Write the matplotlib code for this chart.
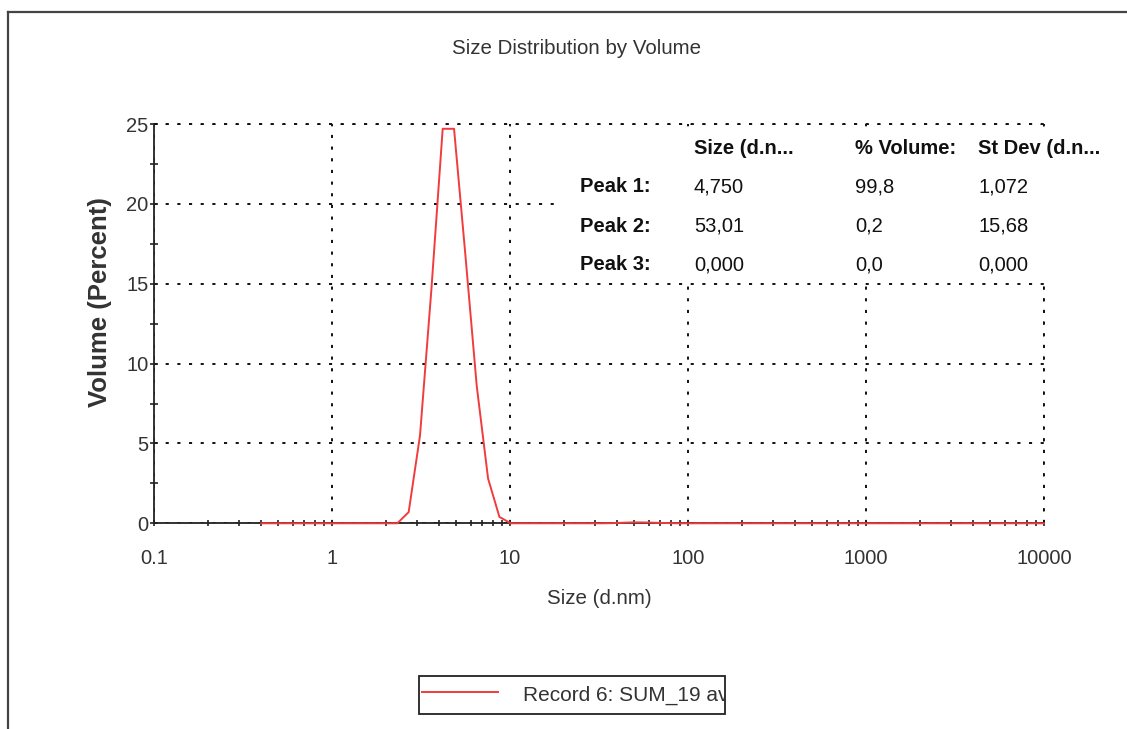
import matplotlib
matplotlib.use("Agg")
import matplotlib.pyplot as plt
import matplotlib.font_manager as fm
from matplotlib.lines import Line2D
from matplotlib.patches import Rectangle

# ---- data ----
sizes = [0.4000, 0.4632, 0.5365, 0.6213, 0.7195, 0.8332, 0.9649, 1.117, 1.294, 1.499,
         1.736, 2.010, 2.328, 2.696, 3.122, 3.615, 4.187, 4.849, 5.615, 6.503,
         7.531, 8.721, 10.10, 11.70, 13.54, 15.69, 18.17, 21.04, 24.36, 28.21,
         32.67, 37.84, 43.82, 50.75, 58.77, 68.06, 78.82, 91.28, 105.7, 122.4,
         141.8, 164.2, 190.1, 220.2, 255.0, 295.3, 342.0, 396.1, 458.7, 531.2,
         615.1, 712.4, 825.0, 955.4, 1106, 1281, 1484, 1718, 1990, 2305,
         2669, 3091, 3580, 4145, 4801, 5560, 6439, 7456, 8635, 10000]
volume = [0, 0, 0, 0, 0, 0, 0, 0, 0, 0,
          0, 0, 0, 0.7, 5.5, 14.6, 24.7, 24.7, 16.8, 8.6,
          2.8, 0.4, 0, 0, 0, 0, 0, 0, 0, 0,
          0, 0.01, 0.04, 0.06, 0.05, 0.03, 0.01, 0, 0, 0,
          0, 0, 0, 0, 0, 0, 0, 0, 0, 0,
          0, 0, 0, 0, 0, 0, 0, 0, 0, 0,
          0, 0, 0, 0, 0, 0, 0, 0, 0, 0]

x_ticks = [0.1, 1, 10, 100, 1000, 10000]
x_tick_labels = ["0.1", "1", "10", "100", "1000", "10000"]
y_ticks = [0, 5, 10, 15, 20, 25]

table_header = ["Size (d.n...", "% Volume:", "St Dev (d.n..."]
peak_names = ["Peak 1:", "Peak 2:", "Peak 3:"]
peak_size = ["4,750", "53,01", "0,000"]
peak_volume = ["99,8", "0,2", "0,0"]
peak_stdev = ["1,072", "15,68", "0,000"]

record_label = "Record 6: SUM_19 av"

############   STYLE   #############
names = {f.name for f in fm.fontManager.ttflist}
NARROW = "Liberation Sans Narrow" if "Liberation Sans Narrow" in names else "Liberation Sans"
NARROW_SIZE = 17 if NARROW == "Liberation Sans Narrow" else 14.5
plt.rcParams["font.family"] = ["Liberation Sans", "DejaVu Sans"]
TXT = "#333333"
RED = "#f03c3c"
DOTS = (0, (1.6, 4.4))

W, H = 1127, 729
fig = plt.figure(figsize=(W / 100, H / 100), dpi=100)

def fx(px):
    return px / W

def fy(py):
    return 1 - py / H

# axes box in pixels: x 154..1044, y 124..523
ax = fig.add_axes([fx(154), fy(523.3), fx(1044 - 154), (523.3 - 124) / H])
ax.set_xscale("log")
ax.set_xlim(0.1, 10000)
ax.set_ylim(0, 25)

ax.plot(sizes, volume, color=RED, lw=1.4, zorder=5, clip_on=False)

for s in ["top", "right"]:
    ax.spines[s].set_visible(False)
for s in ["left", "bottom"]:
    ax.spines[s].set_color("#222222")
    ax.spines[s].set_linewidth(1.3)

ax.set_xticks(x_ticks)
ax.set_xticklabels(x_tick_labels)
ax.set_xticks([m * d for d in [0.1, 1, 10, 100, 1000] for m in range(2, 10)], minor=True)
ax.set_xticklabels([], minor=True)
ax.set_yticks(y_ticks)
ax.set_yticks([2.5, 7.5, 12.5, 17.5, 22.5], minor=True)

ax.tick_params(axis="x", which="both", direction="inout", length=5, width=1.2,
               color="#222222", pad=16)
ax.tick_params(axis="y", which="both", direction="inout", length=6, width=1.2,
               color="#222222", pad=1)
for lab in ax.get_xticklabels() + ax.get_yticklabels():
    lab.set_fontfamily(NARROW)
    lab.set_fontsize(NARROW_SIZE)
    lab.set_color(TXT)

ax.grid(True, which="major", color="#111111", lw=1.4, linestyle=DOTS)
# dotted line on top and right edge like the other grid lines
ax.axhline(25, color="#111111", lw=1.4, linestyle=DOTS, clip_on=False)
ax.axvline(10000, color="#111111", lw=1.4, linestyle=DOTS, clip_on=False)

# ---- peak table (white box over the grid) ----
fig.add_artist(Rectangle((fx(562), fy(281)), fx(1100 - 562), (281 - 128) / H,
                         transform=fig.transFigure, facecolor="white",
                         edgecolor="none", zorder=3))
col_x = [694, 855, 978]
fs_tab = 14.5
for j, h in enumerate(table_header):
    fig.text(fx(col_x[j]), fy(148), h, fontsize=fs_tab, fontweight="bold",
             color="#111111", va="center", zorder=4)
row_y = [187, 226, 265]
for i in range(3):
    fig.text(fx(580), fy(row_y[i]), peak_names[i], fontsize=fs_tab, fontweight="bold",
             color="#111111", va="center", zorder=4)
    for j, v in enumerate([peak_size[i], peak_volume[i], peak_stdev[i]]):
        fig.text(fx(col_x[j]), fy(row_y[i]), v, fontsize=fs_tab, color="#111111",
                 va="center", zorder=4)

# ---- titles ----
fig.text(fx(576), fy(49), "Size Distribution by Volume", ha="center", va="center",
         fontsize=14.8, family=NARROW, color=TXT)
fig.text(fx(599), fy(599), "Size (d.nm)", ha="center", va="center",
         fontsize=14.8, family=NARROW, color=TXT)
fig.text(fx(100), fy(302), "Volume (Percent)", ha="center", va="center",
         rotation=90, fontsize=18.5, fontweight="bold", color=TXT)

# ---- legend box ----
leg_box = Rectangle((fx(419), fy(714)), fx(725 - 419), (714 - 676) / H,
                    transform=fig.transFigure, facecolor="white",
                    edgecolor="#222222", lw=1.3)
fig.add_artist(leg_box)
fig.add_artist(Line2D([fx(422), fx(498)], [fy(692), fy(692)], color=RED, lw=1.4,
                      transform=fig.transFigure))
t = fig.text(fx(523), fy(695), record_label, va="center", fontsize=15,
             family=NARROW, color=TXT)
t.set_clip_path(leg_box)

# ---- outer frame ----
fig.add_artist(Line2D([fx(8), fx(8)], [fy(12), 0], color="#444444", lw=1.6,
                      transform=fig.transFigure))
fig.add_artist(Line2D([fx(8), 1], [fy(12), fy(12)], color="#444444", lw=1.6,
                      transform=fig.transFigure))

fig.savefig("out.png", dpi=100)
